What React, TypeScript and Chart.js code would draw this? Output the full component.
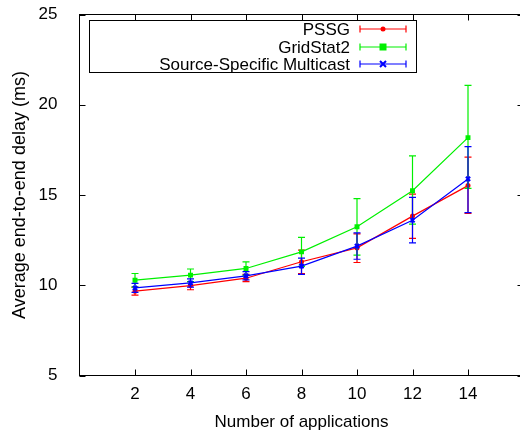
import React, { useEffect, useRef } from "react";
import { Chart, registerables } from "chart.js";
Chart.register(...registerables);

const xValues = [2, 4, 6, 8, 10, 12, 14];
const xTicks = [2, 4, 6, 8, 10, 12, 14];
const yTicks = [5, 10, 15, 20, 25];
const seriesLabels = ["PSSG", "GridStat2", "Source-Specific Multicast"];

const pssgMean = [9.67, 9.98, 10.39, 11.3, 12.07, 13.83, 15.52];
const pssgLow = [9.45, 9.75, 10.2, 10.65, 11.26, 12.6, 13.98];
const pssgHigh = [9.9, 10.2, 10.6, 11.95, 12.85, 15.05, 17.1];

const gridMean = [10.28, 10.56, 10.93, 11.85, 13.24, 15.24, 18.18];
const gridLow = [9.9, 10.2, 10.55, 11.05, 11.67, 13.39, 15.37];
const gridHigh = [10.65, 10.9, 11.3, 12.65, 14.8, 17.17, 21.07];

const ssmMean = [9.85, 10.13, 10.52, 11.06, 12.17, 13.6, 15.89];
const ssmLow = [9.6, 9.9, 10.3, 10.6, 11.44, 12.35, 14.02];
const ssmHigh = [10.1, 10.35, 10.75, 11.5, 12.9, 14.87, 17.68];

const colors = ["#ff0000", "#00f000", "#0000ff"];
const FONT = '"Liberation Sans", Arial, Helvetica, sans-serif';
const FS = 17;

const means = [pssgMean, gridMean, ssmMean];
const lows = [pssgLow, gridLow, ssmLow];
const highs = [pssgHigh, gridHigh, ssmHigh];
const pointStyles = ["circle", "rect", "crossRot"];
const pointRadii = [2.5, 3.5, 3];

function drawMarker(ctx: CanvasRenderingContext2D, i: number, px: number, py: number) {
  ctx.save();
  ctx.fillStyle = colors[i];
  ctx.strokeStyle = colors[i];
  if (i === 0) {
    ctx.beginPath();
    ctx.arc(px, py, 2.5, 0, Math.PI * 2);
    ctx.fill();
  } else if (i === 1) {
    ctx.fillRect(px - 3.5, py - 3.5, 7, 7);
  } else {
    ctx.lineWidth = 2;
    ctx.beginPath();
    ctx.moveTo(px - 3, py - 3);
    ctx.lineTo(px + 3, py + 3);
    ctx.moveTo(px + 3, py - 3);
    ctx.lineTo(px - 3, py + 3);
    ctx.stroke();
  }
  ctx.restore();
}

const errorPlugin = {
  id: "errbars",
  afterDatasetDraw(chart: any, args: any) {
    const i = args.index;
    const { ctx, scales } = chart;
    const x = scales.x, y = scales.y;
    ctx.save();
    ctx.strokeStyle = colors[i];
    ctx.lineWidth = 1.2;
    ctx.beginPath();
    xValues.forEach((v, k) => {
      const px = x.getPixelForValue(v);
      const pl = y.getPixelForValue(lows[i][k]);
      const ph = y.getPixelForValue(highs[i][k]);
      ctx.moveTo(px, pl);
      ctx.lineTo(px, ph);
      ctx.moveTo(px - 3.5, pl);
      ctx.lineTo(px + 3.5, pl);
      ctx.moveTo(px - 3.5, ph);
      ctx.lineTo(px + 3.5, ph);
    });
    ctx.stroke();
    ctx.restore();
  },
};

const framePlugin = {
  id: "frame",
  afterDraw(chart: any) {
    const { ctx, chartArea: a, scales } = chart;
    const x = scales.x, y = scales.y;
    ctx.save();
    ctx.strokeStyle = "#000";
    ctx.lineWidth = 1;
    ctx.beginPath();
    xTicks.forEach((v) => {
      const px = Math.round(x.getPixelForValue(v)) + 0.5;
      ctx.moveTo(px, a.bottom);
      ctx.lineTo(px, a.bottom - 6);
      ctx.moveTo(px, a.top);
      ctx.lineTo(px, a.top + 6);
    });
    yTicks.forEach((v) => {
      const py = Math.round(y.getPixelForValue(v)) + 0.5;
      ctx.moveTo(a.left, py);
      ctx.lineTo(a.left + 6, py);
      ctx.moveTo(a.right, py);
      ctx.lineTo(a.right - 6, py);
    });
    ctx.stroke();
    ctx.strokeRect(a.left, a.top, a.right - a.left, a.bottom - a.top);

    // legend box
    const bx = 89.5, by = 20.5, bw = 327, bh = 52;
    ctx.strokeRect(bx, by, bw, bh);
    ctx.font = FS + "px " + FONT;
    ctx.textAlign = "right";
    ctx.textBaseline = "middle";
    const rows = [29, 47, 64];
    seriesLabels.forEach((lab, i) => {
      const ry = rows[i];
      ctx.fillStyle = "#000";
      ctx.fillText(lab, 350, ry + 1);
      ctx.strokeStyle = colors[i];
      ctx.lineWidth = 1.2;
      ctx.beginPath();
      ctx.moveTo(360, ry);
      ctx.lineTo(406, ry);
      ctx.moveTo(360, ry - 3.5);
      ctx.lineTo(360, ry + 3.5);
      ctx.moveTo(406, ry - 3.5);
      ctx.lineTo(406, ry + 3.5);
      ctx.stroke();
      drawMarker(ctx, i, 383, ry);
    });
    ctx.restore();
  },
};

export default function App() {
  const ref = useRef<HTMLCanvasElement | null>(null);
  useEffect(() => {
    if (!ref.current) return;
    const chart = new Chart(ref.current, {
      type: "line",
      data: {
        datasets: seriesLabels.map((lab, i) => ({
          label: lab,
          data: xValues.map((v, k) => ({ x: v, y: means[i][k] })),
          borderColor: colors[i],
          backgroundColor: colors[i],
          borderWidth: 1.2,
          pointStyle: pointStyles[i] as any,
          pointRadius: pointRadii[i],
          pointBorderWidth: i === 2 ? 2 : 0,
          pointBackgroundColor: colors[i],
          pointBorderColor: colors[i],
          fill: false,
          tension: 0,
          order: 2 - i,
        })),
      },
      options: {
        animation: false,
        responsive: false,
        devicePixelRatio: 1,
        layout: { padding: { top: 14.5, right: 6.5, left: 0, bottom: 0 } },
        plugins: { legend: { display: false }, tooltip: { enabled: false } },
        scales: {
          x: {
            type: "linear",
            min: 0,
            max: 16,
            afterFit: (s: any) => { s.height = 55.5; s.paddingLeft = 0; s.paddingRight = 0; },
            afterBuildTicks: (s: any) => { s.ticks = xTicks.map((v) => ({ value: v })); },
            grid: { display: false, drawTicks: false, tickLength: 0 },
            border: { display: false },
            ticks: { color: "#000", font: { family: FONT, size: FS }, padding: 9, maxRotation: 0 },
            title: {
              display: true,
              text: "Number of applications",
              color: "#000",
              font: { family: FONT, size: FS },
              padding: { top: 0, bottom: -2 },
            },
          },
          y: {
            type: "linear",
            min: 5,
            max: 25,
            afterFit: (s: any) => { s.width = 79.5; s.paddingTop = 0; s.paddingBottom = 0; },
            afterBuildTicks: (s: any) => { s.ticks = yTicks.map((v) => ({ value: v })); },
            grid: { display: false, drawTicks: false, tickLength: 0 },
            border: { display: false },
            ticks: { color: "#000", font: { family: FONT, size: FS }, padding: 22 },
            title: {
              display: true,
              text: "Average end-to-end delay (ms)",
              color: "#000",
              font: { family: FONT, size: 18 },
              padding: { top: 9, bottom: 0 },
            },
          },
        },
      },
      plugins: [errorPlugin, framePlugin],
    });
    return () => chart.destroy();
  }, []);
  return (
    <div style={{ position: "fixed", left: 0, top: 0, width: 520, height: 431, overflow: "hidden", background: "#fff" }}>
      <canvas ref={ref} width={530} height={431} style={{ display: "block", width: 530, height: 431 }} />
    </div>
  );
}
